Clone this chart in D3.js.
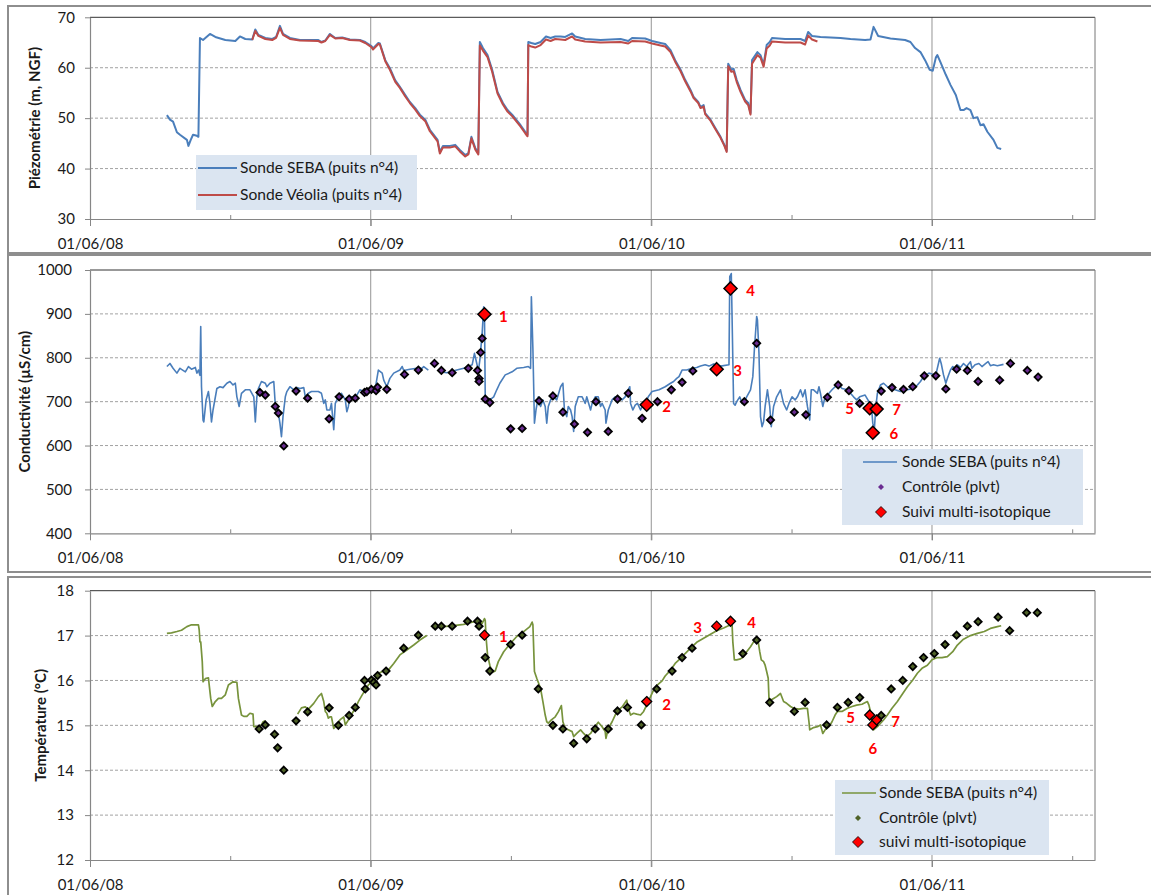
<!DOCTYPE html>
<html>
<head>
<meta charset="utf-8">
<script src="https://d3js.org/d3.v7.min.js"></script>
<style>
  body { margin: 0; background: #fff; }
  svg text { font-family: Lato, "Open Sans", sans-serif; fill: #1a1a1a; }
</style>
</head>
<body>
<div id="chart"></div>
<script>
// ---- données (jours depuis le 01/06/08, valeur) ----
var yearTicks = ["01/06/08", "01/06/09", "01/06/10", "01/06/11"];
var halfYearTicks = ["01/12/08", "01/12/09", "01/12/10", "01/12/11"];
var piezoTicks = [30, 40, 50, 60, 70];
var condTicks = [400, 500, 600, 700, 800, 900, 1000];
var tempTicks = [12, 13, 14, 15, 16, 17, 18];

var piezoSeba = [[100,50.6],[104,49.7],[108,49.3],[113,47.2],[117,46.7],[126,45.7],[128,44.5],[131,45.7],[134,46.7],[139,46.5],[141,46.3],[143,65.9],[147,65.5],[156,66.7],[163,66.1],[176,65.5],[189,65.3],[195,66.2],[202,65.7],[211,65.6],[215,67.6],[219,66.5],[228,65.9],[237,65.7],[242,66.1],[247,68.3],[251,66.7],[260,65.9],[273,65.5],[297,65.5],[301,65.1],[306,65.4],[312,66.7],[319,65.9],[328,66.0],[338,65.6],[351,65.5],[358,65.1],[366,64.3],[368,63.8],[375,64.9],[377,64.8],[384,61.5],[390,59.9],[397,57.5],[403,56.2],[410,54.6],[416,53.2],[423,52.0],[429,50.7],[436,49.7],[442,47.7],[452,45.7],[455,43.3],[459,44.5],[468,44.5],[475,44.7],[481,43.7],[488,42.7],[492,43.0],[496,46.3],[501,44.1],[505,43.1],[507,65.1],[511,63.9],[517,62.5],[523,59.6],[530,55.2],[537,53.0],[543,51.6],[549,50.7],[560,48.6],[566,47.3],[569,46.7],[570,65.1],[574,64.9],[579,64.7],[586,65.1],[593,66.2],[599,65.9],[605,66.2],[612,66.2],[618,66.1],[627,66.8],[631,66.2],[644,65.7],[664,65.5],[690,65.7],[700,65.3],[705,65.9],[722,65.8],[731,65.3],[742,64.9],[748,64.7],[755,63.5],[761,61.5],[768,59.6],[774,57.6],[781,55.6],[785,54.2],[791,53.2],[794,52.2],[798,52.6],[800,51.0],[807,49.7],[813,48.1],[820,46.3],[825,44.7],[828,43.5],[830,60.8],[834,59.6],[837,59.8],[841,57.6],[846,55.6],[852,53.6],[856,53.0],[859,51.0],[861,61.5],[868,63.1],[872,62.5],[876,60.6],[880,64.5],[884,65.1],[887,65.9],[904,65.7],[924,65.7],[930,65.3],[934,67.1],[939,66.3],[950,66.1],[976,65.9],[989,65.7],[1008,65.5],[1015,65.6],[1019,68.1],[1025,66.3],[1041,65.8],[1060,65.5],[1067,65.1],[1073,63.9],[1080,63.1],[1086,61.5],[1092,59.6],[1096,59.4],[1100,62.0],[1102,62.5],[1106,61.1],[1113,58.6],[1119,56.6],[1126,54.6],[1132,51.6],[1136,51.6],[1140,52.0],[1145,51.6],[1149,50.0],[1154,50.2],[1158,48.6],[1162,48.8],[1167,47.3],[1175,45.7],[1180,44.1],[1185,43.9]];

var piezoVeolia = [[211,65.5],[215,67.3],[219,66.3],[228,65.7],[237,65.5],[242,65.9],[247,67.9],[251,66.5],[260,65.7],[273,65.4],[297,65.3],[301,65.0],[306,65.3],[312,66.5],[319,65.8],[328,65.9],[338,65.5],[351,65.4],[358,64.9],[366,64.1],[368,63.6],[375,64.7],[377,64.6],[384,61.3],[390,59.6],[397,57.2],[403,56.0],[410,54.3],[416,53.0],[423,51.7],[429,50.4],[436,49.4],[442,47.4],[452,45.4],[455,43.0],[459,44.2],[468,44.2],[475,44.4],[481,43.4],[488,42.4],[492,42.8],[496,46.0],[501,43.8],[505,42.8],[507,64.4],[511,63.4],[517,62.1],[523,59.2],[530,54.9],[537,52.7],[543,51.3],[549,50.4],[560,48.3],[566,47.0],[569,46.4],[570,64.5],[574,64.2],[579,64.0],[586,64.5],[593,65.6],[599,65.3],[605,65.7],[612,65.6],[618,65.5],[627,66.2],[631,65.6],[644,65.2],[664,65.0],[690,65.1],[700,64.8],[705,65.3],[722,65.2],[731,64.8],[742,64.4],[748,64.2],[755,63.1],[761,61.2],[768,59.3],[774,57.3],[781,55.3],[785,54.0],[791,53.0],[794,52.0],[798,52.3],[800,50.8],[807,49.5],[813,47.9],[820,46.1],[825,44.5],[828,43.3],[830,60.3],[834,59.2],[837,59.3],[841,57.2],[846,55.2],[852,53.3],[856,52.6],[859,50.7],[861,60.8],[868,62.5],[872,62.0],[876,60.2],[880,63.8],[884,64.4],[887,65.2],[904,65.0],[924,65.0],[930,64.6],[934,66.4],[939,65.6],[946,65.2]];

var condSeba = [[100,780],[104,787],[108,776],[113,765],[117,776],[124,768],[128,780],[132,774],[137,778],[139,765],[141,772],[143,760],[144,871],[145,734],[147,658],[148,654],[151,704],[154,723],[156,696],[158,654],[160,681],[165,730],[169,734],[173,732],[178,742],[182,746],[186,738],[189,742],[191,711],[194,689],[197,719],[202,727],[208,727],[213,711],[215,654],[217,711],[219,730],[223,746],[228,742],[230,734],[234,742],[239,746],[241,692],[243,689],[245,673],[247,651],[249,620],[251,666],[254,711],[256,723],[260,734],[265,727],[269,732],[273,730],[278,732],[280,711],[284,719],[288,723],[297,723],[301,719],[304,696],[306,704],[308,681],[312,681],[314,696],[317,636],[319,696],[323,711],[327,719],[332,704],[334,677],[336,689],[338,711],[343,711],[347,715],[351,727],[356,723],[360,727],[364,727],[371,730],[375,772],[380,765],[382,749],[386,734],[390,753],[395,765],[403,772],[406,780],[408,771],[416,774],[425,776],[432,776],[434,780],[440,772],[448,null],[455,768],[464,766],[477,772],[486,776],[492,780],[497,784],[500,810],[503,787],[505,768],[507,795],[510,856],[512,916],[513,905],[514,711],[516,708],[520,704],[525,711],[529,727],[533,742],[540,761],[549,768],[555,776],[564,778],[570,780],[573,776],[574,939],[576,820],[578,651],[580,681],[583,711],[586,689],[589,704],[592,689],[594,651],[596,689],[599,704],[603,711],[607,704],[612,734],[615,742],[617,681],[620,666],[622,689],[625,681],[627,666],[629,632],[631,689],[635,711],[640,711],[644,696],[646,711],[651,681],[653,696],[657,711],[661,711],[664,689],[666,696],[670,681],[671,651],[674,681],[679,704],[683,711],[687,711],[692,704],[696,711],[700,727],[702,734],[703,696],[706,681],[709,692],[712,696],[716,681],[718,689],[722,696],[726,711],[731,723],[740,727],[748,734],[755,742],[759,746],[763,753],[766,757],[770,772],[776,772],[783,776],[789,778],[794,781],[800,784],[805,781],[811,786],[820,781],[831,784],[832,985],[834,992],[835,894],[837,696],[839,692],[841,700],[845,711],[848,696],[851,700],[854,711],[859,727],[862,757],[864,818],[867,894],[868,886],[870,810],[872,666],[874,643],[876,654],[878,689],[881,727],[884,689],[886,643],[889,689],[893,711],[898,727],[900,711],[902,696],[906,681],[909,696],[913,711],[917,704],[920,711],[924,727],[927,711],[930,727],[933,689],[936,658],[938,727],[941,727],[946,719],[948,734],[950,719],[953,689],[956,711],[961,719],[965,727],[969,734],[974,738],[978,730],[985,727],[989,719],[993,711],[997,704],[1001,711],[1008,715],[1013,700],[1016,696],[1018,651],[1020,636],[1022,689],[1024,719],[1028,738],[1032,742],[1037,734],[1041,730],[1047,727],[1054,723],[1063,727],[1071,730],[1076,738],[1080,746],[1084,757],[1091,765],[1095,763],[1100,761],[1105,799],[1107,787],[1110,761],[1113,742],[1115,753],[1119,772],[1122,780],[1125,776],[1128,784],[1132,778],[1136,787],[1140,780],[1145,791],[1147,776],[1151,784],[1156,787],[1160,780],[1165,787],[1168,791],[1171,782],[1175,784],[1180,782],[1188,785]];

var condControl = [[221,721],[228,715],[241,689],[245,674],[252,599],[268,724],[283,708],[311,661],[324,711],[337,706],[345,708],[357,721],[360,723],[366,728],[372,725],[374,733],[386,728],[409,762],[427,772],[448,787],[457,771],[471,766],[492,776],[504,771],[506,753],[506,746],[508,812],[510,844],[514,706],[520,698],[547,638],[562,639],[584,702],[602,713],[615,676],[630,649],[647,630],[658,700],[674,632],[686,706],[700,719],[718,662],[738,700],[756,727],[770,744],[784,770],[851,700],[867,833],[885,658],[916,676],[931,670],[959,710],[973,738],[987,725],[1001,696],[1029,724],[1043,732],[1058,728],[1070,734],[1085,759],[1100,759],[1113,729],[1127,774],[1141,771],[1155,746],[1183,749],[1197,787],[1219,771],[1233,756]];

var isoLabels = ["1", "2", "3", "4", "5", "6", "7"];
var isoDays = [513, 724, 815, 833, 1014, 1018, 1023];
var isoCond = [899, 693, 774, 958, 685, 629, 683];
var isoTemp = [17.01, 15.53, 17.21, 17.32, 15.23, 15.01, 15.12];

var tempSeba = [[100,17.05],[106,17.06],[113,17.09],[119,17.12],[126,17.2],[132,17.24],[141,17.24],[142,17.13],[143,16.86],[144,16.86],[146,16.42],[147,15.97],[150,16.04],[154,16.06],[155,15.9],[157,15.6],[159,15.42],[163,15.53],[167,15.6],[171,15.6],[176,15.68],[180,15.9],[186,15.97],[191,15.96],[193,15.6],[197,15.23],[200,15.2],[204,15.2],[208,15.27],[212,15.25],[213,14.97],[217,14.97],[219,14.97],[223,15.01],[225,15.08],[228,15.1],[250,null],[270,15.25],[275,15.39],[280,15.41],[284,15.36],[291,15.49],[297,15.64],[301,15.71],[304,15.53],[306,15.31],[308,15.27],[310,15.16],[312,15.19],[314,15.19],[317,14.93],[321,15.01],[325,15.12],[330,15.19],[332,15.01],[336,15.12],[341,15.27],[345,15.38],[349,15.53],[354,15.68],[358,15.79],[362,15.9],[367,15.97],[371,16.05],[375,16.16],[382,16.21],[388,16.23],[395,16.38],[403,16.57],[412,16.68],[421,16.79],[429,16.9],[438,17.0],[441,null],[445,17.18],[460,17.2],[473,17.22],[486,17.25],[497,17.3],[505,17.32],[510,17.27],[513,17.38],[514,17.34],[515,16.98],[517,16.57],[520,16.34],[523,16.18],[527,16.21],[531,16.42],[538,16.64],[547,16.83],[555,16.98],[564,17.09],[572,17.2],[575,17.3],[576,17.24],[578,16.2],[581,16.05],[586,15.82],[589,15.53],[592,15.23],[594,15.08],[596,15.05],[600,15.12],[605,15.19],[609,15.3],[613,15.44],[615,15.08],[618,14.93],[622,14.9],[627,14.86],[629,14.75],[633,14.82],[638,14.9],[642,14.82],[646,14.75],[651,14.82],[655,14.93],[661,15.07],[666,14.97],[670,14.86],[671,14.71],[674,14.93],[679,15.08],[683,15.23],[687,15.34],[692,15.41],[698,15.56],[700,15.38],[703,15.23],[707,15.27],[711,15.25],[716,15.23],[720,15.31],[725,15.49],[729,15.64],[733,15.79],[738,15.9],[744,15.99],[748,16.1],[755,16.23],[761,16.38],[768,16.49],[774,16.6],[781,16.72],[789,16.85],[798,16.94],[807,17.03],[815,17.11],[824,17.17],[833,17.24],[835,17.25],[836,16.86],[838,16.46],[841,16.46],[846,16.48],[850,16.53],[854,16.64],[859,16.75],[863,16.86],[867,16.94],[869,16.86],[871,16.64],[873,16.46],[876,16.42],[878,16.34],[880,16.2],[882,16.05],[883,15.6],[885,15.56],[889,15.6],[893,15.64],[898,15.71],[902,15.53],[906,15.49],[911,15.42],[915,15.38],[922,15.36],[928,15.38],[933,15.38],[935,15.08],[936,14.9],[941,14.95],[946,14.97],[950,15.01],[953,14.82],[956,14.9],[961,14.97],[965,15.08],[969,15.23],[972,15.31],[978,15.31],[985,15.38],[991,15.42],[997,15.45],[1004,15.47],[1011,15.53],[1013,15.45],[1015,15.31],[1017,15.01],[1019,14.9],[1024,14.97],[1032,15.12],[1037,15.23],[1043,15.38],[1050,15.53],[1057,15.71],[1063,15.86],[1070,16.01],[1076,16.16],[1082,16.27],[1089,16.34],[1095,16.46],[1102,16.51],[1108,16.51],[1115,16.53],[1122,16.64],[1128,16.79],[1136,16.92],[1145,17.0],[1154,17.05],[1163,17.09],[1171,17.16],[1180,17.2],[1185,17.22]];

var tempControl = [[220,14.92],[228,15.01],[240,14.8],[244,14.5],[252,14.0],[268,15.1],[283,15.3],[311,15.39],[323,15.0],[337,15.22],[345,15.4],[357,16.0],[358,15.81],[366,16.01],[369,15.96],[372,15.9],[374,16.11],[385,16.21],[408,16.72],[427,17.01],[449,17.21],[457,17.21],[471,17.21],[491,17.32],[504,17.32],[506,17.21],[514,16.51],[520,16.21],[547,16.8],[562,17.01],[583,15.81],[602,15.0],[615,14.92],[629,14.6],[646,14.7],[657,14.92],[674,14.92],[686,15.32],[699,15.4],[717,15.01],[737,15.81],[757,16.21],[770,16.51],[783,16.72],[849,16.6],[867,16.9],[884,15.51],[916,15.31],[930,15.51],[958,15.01],[972,15.4],[986,15.51],[1001,15.62],[1029,15.22],[1042,15.81],[1057,16.0],[1070,16.31],[1084,16.51],[1098,16.6],[1112,16.8],[1127,17.01],[1141,17.21],[1155,17.31],[1181,17.41],[1196,17.11],[1218,17.51],[1232,17.51]];

// ---- mise en page ----
var START = new Date(2008, 5, 1);
var END = new Date(2011, 11, 30);
var parseD = d3.timeParse("%d/%m/%y");
var fmtD = d3.timeFormat("%d/%m/%y");
var toDate = function(day) { return d3.timeDay.offset(START, day); };

var svg = d3.select("#chart").append("svg").attr("width", 1151).attr("height", 895);
var x = d3.scaleTime().domain([START, END]).range([90, 1095]);

function diamond(r) { return "M0," + (-r) + "L" + r + ",0L0," + r + "L" + (-r) + ",0Z"; }

function frame(yTop, h) {
  svg.append("rect").attr("x", 8).attr("y", yTop).attr("width", 1170).attr("height", h)
    .attr("fill", "none").attr("stroke", "#8e8e8e").attr("stroke-width", 2);
}

function drawPanel(p) {
  var y = d3.scaleLinear().domain(p.domain).range([p.y0, p.y1]);
  var g = svg.append("g");

  // grille horizontale pointillée
  g.selectAll(".hg").data(p.ticks.slice(1, -1)).enter().append("line")
    .attr("x1", 90).attr("x2", 1095)
    .attr("y1", d => y(d)).attr("y2", d => y(d))
    .attr("stroke", "#8a8a8a").attr("stroke-dasharray", "3,2").attr("stroke-width", 0.8);

  // grille verticale (années)
  g.selectAll(".vg").data(yearTicks.slice(1).map(parseD)).enter().append("line")
    .attr("x1", d => x(d)).attr("x2", d => x(d))
    .attr("y1", p.y1).attr("y2", p.y0 + 7)
    .attr("stroke", "#a6a6a6").attr("stroke-width", 1.2);

  // petites graduations semestrielles
  g.selectAll(".mt").data(halfYearTicks.map(parseD)).enter().append("line")
    .attr("x1", d => x(d)).attr("x2", d => x(d))
    .attr("y1", p.y0 - 4).attr("y2", p.y0)
    .attr("stroke", "#868686");

  // cadre de la zone de tracé
  g.append("line").attr("x1", 90).attr("x2", 1095).attr("y1", p.y1).attr("y2", p.y1)
    .attr("stroke", "#333").attr("stroke-width", 1);
  g.append("line").attr("x1", 1095).attr("x2", 1095).attr("y1", p.y1).attr("y2", p.y0)
    .attr("stroke", "#777").attr("stroke-width", 1);

  // axes
  var ya = g.append("g").attr("transform", "translate(90,0)")
    .call(d3.axisLeft(y).tickValues(p.ticks).tickFormat(d => d)
      .tickSize(5).tickSizeOuter(0).tickPadding(p.labelPad));
  var xa = g.append("g").attr("transform", "translate(0," + p.y0 + ")")
    .call(d3.axisBottom(x).tickValues(yearTicks.map(parseD)).tickFormat(fmtD)
      .tickSize(7).tickSizeOuter(0).tickPadding(12));
  [ya, xa].forEach(function(a) {
    a.select(".domain").attr("stroke", "#868686").attr("stroke-width", 1.2);
    a.selectAll(".tick line").attr("stroke", "#868686");
    a.selectAll("text").attr("font-size", 15).attr("fill", "#1a1a1a")
      .style("font-family", "Lato, 'Open Sans', sans-serif");
  });

  // titre d'axe
  svg.append("text")
    .attr("transform", "translate(" + p.titleX + "," + ((p.y0 + p.y1) / 2) + ") rotate(-90)")
    .attr("text-anchor", "middle").attr("dy", "0.35em")
    .attr("font-size", 15).attr("font-weight", "bold").text(p.title);

  return y;
}

function drawLine(series, y, color, w) {
  var line = d3.line().defined(d => d[1] != null)
    .x(d => x(toDate(d[0]))).y(d => y(d[1]));
  svg.append("path").datum(series).attr("d", line)
    .attr("fill", "none").attr("stroke", color).attr("stroke-width", w)
    .attr("stroke-linejoin", "round");
}

function drawMarkers(series, y, r, fill, sw) {
  svg.append("g").selectAll("path").data(series).enter().append("path")
    .attr("d", diamond(r))
    .attr("transform", d => "translate(" + x(toDate(d[0])) + "," + y(d[1]) + ")")
    .attr("fill", fill).attr("stroke", "#000").attr("stroke-width", sw);
}

function drawIsoLabels(vals, y, offsets) {
  svg.append("g").selectAll("text").data(isoLabels).enter().append("text")
    .attr("x", (d, i) => x(toDate(isoDays[i])) + offsets[i][0])
    .attr("y", (d, i) => y(vals[i]) + offsets[i][1])
    .attr("dy", "0.35em").attr("text-anchor", "middle")
    .attr("font-size", 15).attr("font-weight", "bold")
    .style("fill", "#ff0000").text(d => d);
}

function legendBox(x0, y0, w, h) {
  svg.append("rect").attr("x", x0).attr("y", y0).attr("width", w).attr("height", h)
    .attr("fill", "#dbe5f1");
}
function legendText(x0, yb, txt) {
  svg.append("text").attr("x", x0).attr("y", yb).attr("font-size", 15.6).text(txt);
}
function legendLine(x1, x2, yy, color, w) {
  svg.append("line").attr("x1", x1).attr("x2", x2).attr("y1", yy).attr("y2", yy)
    .attr("stroke", color).attr("stroke-width", w);
}
function legendDiamond(cx, cy, r, fill, sw) {
  svg.append("path").attr("d", diamond(r)).attr("transform", "translate(" + cx + "," + cy + ")")
    .attr("fill", fill).attr("stroke", sw ? "#000" : "none").attr("stroke-width", sw || 0);
}

// cadres des trois graphiques
frame(6, 247);
frame(255, 317);
frame(577, 330);

// 1) piézométrie
var yP = drawPanel({ y0: 219, y1: 17.3, domain: [30, 70], ticks: piezoTicks, labelPad: 10,
  title: "Piézométrie (m, NGF)", titleX: 35 });
drawLine(piezoSeba, yP, "#4a7ebb", 2);
drawLine(piezoVeolia, yP, "#be4b48", 2);
legendBox(196, 155, 221, 55);
legendLine(198, 237, 168, "#4a7ebb", 2);
legendText(240, 173, "Sonde SEBA (puits n°4)");
legendLine(198, 237, 195, "#be4b48", 2);
legendText(240, 200, "Sonde Véolia (puits n°4)");

// 2) conductivité
var yC = drawPanel({ y0: 533.3, y1: 270, domain: [400, 1000], ticks: condTicks, labelPad: 13,
  title: "Conductivité (µS/cm)", titleX: 25 });
drawLine(condSeba, yC, "#4a7ebb", 1.6);
drawMarkers(condControl, yC, 3.6, "#6a2c91", 1.8);
drawMarkers(isoDays.map((d, i) => [d, isoCond[i]]), yC, 6.5, "#ff0000", 1.5);
drawIsoLabels(isoCond, yC, [[19,2],[20,2],[21,2],[20,2],[-20,1],[21,1],[20,1]]);
legendBox(842, 449, 241, 76);
legendLine(863, 897, 462, "#4a7ebb", 1.6);
legendText(902, 467, "Sonde SEBA (puits n°4)");
legendDiamond(881, 487, 3, "#6a2c91");
legendText(902, 492, "Contrôle (plvt)");
legendDiamond(881, 512, 5.5, "#ff0000", 0.8);
legendText(902, 517, "Suivi multi-isotopique");

// 3) température
var yT = drawPanel({ y0: 860, y1: 590.7, domain: [12, 18], ticks: tempTicks, labelPad: 11,
  title: "Température (°C)", titleX: 41 });
drawLine(tempSeba, yT, "#77933c", 1.7);
drawMarkers(tempControl, yT, 3.6, "#4f6228", 1.8);
drawMarkers(isoDays.map((d, i) => [d, isoTemp[i]]), yT, 5, "#ff0000", 1.3);
drawIsoLabels(isoTemp, yT, [[19,2],[20,3],[-19,2],[21,2],[-19,3],[0,24],[19,2]]);
legendBox(835, 780, 214, 75);
legendLine(842, 876, 793, "#77933c", 1.7);
legendText(879, 798, "Sonde SEBA (puits n°4)");
legendDiamond(858, 818, 3, "#4f6228");
legendText(879, 823, "Contrôle (plvt)");
legendDiamond(858, 842, 5.5, "#ff0000", 0.8);
legendText(879, 847, "suivi multi-isotopique");
</script>
</body>
</html>
